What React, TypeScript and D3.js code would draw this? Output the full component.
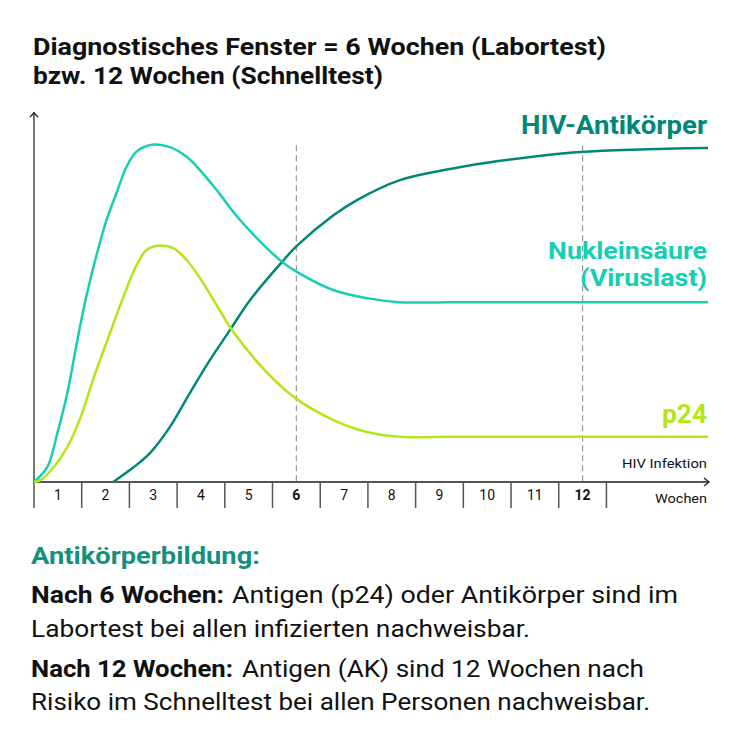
import React from 'react';
import * as d3 from 'd3';

const weekLabels = ['1', '2', '3', '4', '5', '6', '7', '8', '9', '10', '11', '12'];
const boldWeekLabels = ['6', '12'];
const dashedWeeks = [6, 12];

const nucleicWeek = [0, 0.28, 0.49, 0.7, 0.91, 1.08, 1.3, 1.52, 1.73, 1.94, 2.15, 2.5, 2.85, 3.2, 3.48, 3.83, 4.32, 5.2, 5.51, 6.27, 6.98, 7.67, 8.72, 14.13];
const nucleicValue = [0, 4.1, 13.2, 24.1, 38.4, 49.2, 60.8, 70.8, 78.1, 85.2, 89.3, 91.2, 90.5, 87.9, 84.3, 78.9, 70.8, 59.5, 56.8, 51.9, 49.7, 48.6, 48.6, 48.6];

const p24Week = [0, 0.14, 0.42, 0.7, 0.98, 1.26, 1.54, 1.85, 2.15, 2.36, 2.64, 2.92, 3.2, 3.48, 3.83, 4.15, 4.89, 5.51, 6.27, 6.98, 7.67, 8.72, 14.13];
const p24Value = [0, 0.5, 4.1, 9.5, 17.6, 28.5, 38.4, 49.2, 58.6, 62.7, 63.9, 63.2, 60, 55.1, 47.8, 41.1, 29.5, 22.4, 16.8, 13.5, 12.2, 12.2, 12.2];

const antibodyWeek = [1.66, 2.1, 2.43, 2.85, 3.27, 3.69, 4.11, 4.53, 5.2, 5.51, 6.27, 6.77, 7.67, 8.72, 9.77, 11.45, 14.13];
const antibodyValue = [0, 4.1, 7.8, 14.9, 24.1, 33, 41.1, 49.2, 59.5, 63.8, 72, 76.2, 81.6, 84.6, 86.8, 89.2, 90.3];

const seriesNames = ['HIV-Antikörper', 'Nukleinsäure', '(Viruslast)', 'p24'];

const C_DARK = '#00877a';
const C_TEAL = '#14cfb3';
const C_LIME = '#b2e617';
const FONT = 'Roboto, "Noto Sans", sans-serif';

export default function App() {
  const W = 743, H = 746;
  const x = d3.scaleLinear().domain([0, 14.15]).range([34, 709]);
  const y = d3.scaleLinear().domain([0, 100]).range([482, 112]);
  const line = d3.line<[number, number]>()
    .x(d => x(d[0]))
    .y(d => y(d[1]))
    .curve(d3.curveCatmullRom.alpha(0.5));
  const zip = (a: number[], b: number[]) => a.map((v, i) => [v, b[i]] as [number, number]);

  const y0 = y(0);
  const ticks = d3.range(0, 13);

  return (
    <svg width={W} height={H} style={{ position: 'absolute', left: 0, top: 0, background: '#fff' }}>
      <rect width={W} height={H} fill="#fff" />
      {/* title */}
      <text x={33} y={55} fontFamily={FONT} fontWeight={700} fontSize={23} fill="#111" textLength={573} lengthAdjust="spacingAndGlyphs">Diagnostisches Fenster = 6 Wochen (Labortest)</text>
      <text x={33} y={84} fontFamily={FONT} fontWeight={700} fontSize={23} fill="#111" textLength={350} lengthAdjust="spacingAndGlyphs">bzw. 12 Wochen (Schnelltest)</text>

      {/* dashed lines */}
      {dashedWeeks.map(w => (
        <line key={w} x1={x(w - 0.5)} x2={x(w - 0.5)} y1={y(91)} y2={y0} stroke="#999" strokeWidth={1.2} strokeDasharray="6,4" />
      ))}

      {/* axes */}
      <line x1={x(0)} x2={x(0)} y1={y0} y2={y(100)} stroke="#777" strokeWidth={2} />
      <polyline points={`${x(0) - 4},${y(100) + 5} ${x(0)},${y(100) + 1} ${x(0) + 4},${y(100) + 5}`} fill="none" stroke="#222" strokeWidth={1.3} />
      <line x1={x(0)} x2={x(14.15)} y1={y0} y2={y0} stroke="#555" strokeWidth={2} />
      <polyline points={`${x(14.15) - 5},${y0 - 4} ${x(14.15)},${y0} ${x(14.15) - 5},${y0 + 4}`} fill="none" stroke="#222" strokeWidth={1.3} />
      {ticks.map(t => (
        <line key={t} x1={x(t)} x2={x(t)} y1={y0} y2={y0 + 26} stroke="#555" strokeWidth={1.5} />
      ))}
      {weekLabels.map((l, i) => (
        <text key={l} x={x(i + 0.5)} y={500} textAnchor="middle" fontFamily={FONT} fontSize={14}
          fontWeight={boldWeekLabels.includes(l) ? 700 : 400} fill="#111">{l}</text>
      ))}
      <text x={707} y={468} textAnchor="end" fontFamily={FONT} fontSize={13} fill="#111" textLength={85} lengthAdjust="spacingAndGlyphs">HIV Infektion</text>
      <text x={707} y={503} textAnchor="end" fontFamily={FONT} fontSize={13} fill="#111" textLength={52} lengthAdjust="spacingAndGlyphs">Wochen</text>

      {/* curves */}
      <path d={line(zip(antibodyWeek, antibodyValue)) || ''} fill="none" stroke={C_DARK} strokeWidth={2.5} />
      <path d={line(zip(nucleicWeek, nucleicValue)) || ''} fill="none" stroke={C_TEAL} strokeWidth={2.5} />
      <path d={line(zip(p24Week, p24Value)) || ''} fill="none" stroke={C_LIME} strokeWidth={2.5} />

      {/* series labels */}
      <text x={707} y={134} textAnchor="end" fontFamily={FONT} fontWeight={700} fontSize={26} fill={C_DARK} textLength={186} lengthAdjust="spacingAndGlyphs">{seriesNames[0]}</text>
      <text x={707} y={259} textAnchor="end" fontFamily={FONT} fontWeight={700} fontSize={23} fill={C_TEAL} textLength={159} lengthAdjust="spacingAndGlyphs">{seriesNames[1]}</text>
      <text x={707} y={286} textAnchor="end" fontFamily={FONT} fontWeight={700} fontSize={23} fill={C_TEAL} textLength={127} lengthAdjust="spacingAndGlyphs">{seriesNames[2]}</text>
      <text x={707} y={423} textAnchor="end" fontFamily={FONT} fontWeight={700} fontSize={26} fill={C_LIME} textLength={45} lengthAdjust="spacingAndGlyphs">{seriesNames[3]}</text>

      {/* notes */}
      <text x={31} y={564} fontFamily={FONT} fontWeight={700} fontSize={23} fill="#13917f" textLength={229} lengthAdjust="spacingAndGlyphs">Antikörperbildung:</text>
      <text x={31} y={603} fontFamily={FONT} fontWeight={700} fontSize={24} fill="#111" textLength={193} lengthAdjust="spacingAndGlyphs">Nach 6 Wochen:</text>
      <text x={232} y={603} fontFamily={FONT} fontWeight={400} fontSize={24} fill="#111" textLength={446} lengthAdjust="spacingAndGlyphs">Antigen (p24) oder Antikörper sind im</text>
      <text x={31} y={637} fontFamily={FONT} fontWeight={400} fontSize={24} fill="#111" textLength={499} lengthAdjust="spacingAndGlyphs">Labortest bei allen infizierten nachweisbar.</text>
      <text x={31} y={677} fontFamily={FONT} fontWeight={700} fontSize={24} fill="#111" textLength={202} lengthAdjust="spacingAndGlyphs">Nach 12 Wochen:</text>
      <text x={242} y={677} fontFamily={FONT} fontWeight={400} fontSize={24} fill="#111" textLength={402} lengthAdjust="spacingAndGlyphs">Antigen (AK) sind 12 Wochen nach</text>
      <text x={31} y={710} fontFamily={FONT} fontWeight={400} fontSize={24} fill="#111" textLength={619} lengthAdjust="spacingAndGlyphs">Risiko im Schnelltest bei allen Personen nachweisbar.</text>
    </svg>
  );
}
